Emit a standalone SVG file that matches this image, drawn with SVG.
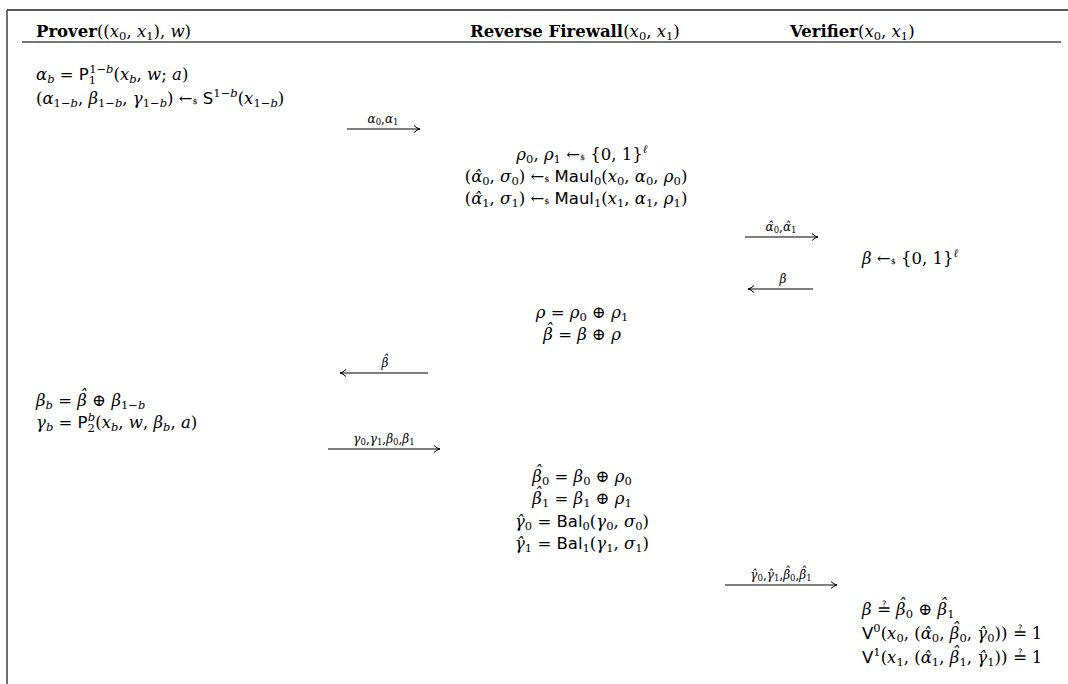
<svg xmlns="http://www.w3.org/2000/svg" width="1068" height="684" viewBox="0 0 1068 684">
<style>
.t{font-family:"DejaVu Serif",serif;font-size:16.5px;fill:#000}
.m{text-anchor:middle}
.i{font-style:italic}
.sf{font-family:"DejaVu Sans",sans-serif}
.s{font-size:11.5px}
.lb{font-family:"DejaVu Serif",serif;font-size:12px;fill:#000;text-anchor:middle}
.ls{font-size:8.5px}
.h{font-weight:bold}
.rnd{font-size:8px}
.ln{stroke:#000;stroke-width:1;fill:none}
</style>
<defs>
<marker id="ah" viewBox="0 0 8 8" refX="7" refY="4" markerWidth="8" markerHeight="8" markerUnits="userSpaceOnUse" orient="auto">
<path d="M1,0.5 Q4,3.5 7,4 Q4,4.5 1,7.5" fill="none" stroke="#000" stroke-width="1"/>
</marker>
</defs>
<rect width="1068" height="684" fill="#fff"/>
<g id="frame">
<line x1="7" y1="10" x2="1068" y2="10" stroke="#222" stroke-width="1.3"/>
<line x1="7" y1="10" x2="7" y2="684" stroke="#222" stroke-width="1.3"/>
<line x1="22" y1="42" x2="1061" y2="42" stroke="#777" stroke-width="2"/>
</g>
<g id="headers">
<text id="h-prover" class="t" x="36" y="37"><tspan class="h">Prover</tspan>((<tspan class="i">x</tspan><tspan class="s" dy="3">0</tspan><tspan dy="-3">, </tspan><tspan class="i">x</tspan><tspan class="s" dy="3">1</tspan><tspan dy="-3">), </tspan><tspan class="i">w</tspan>)</text>
<text id="h-firewall" class="t" x="470" y="37"><tspan class="h">Reverse Firewall</tspan>(<tspan class="i">x</tspan><tspan class="s" dy="3">0</tspan><tspan dy="-3">, </tspan><tspan class="i">x</tspan><tspan class="s" dy="3">1</tspan><tspan dy="-3">)</tspan></text>
<text id="h-verifier" class="t" x="790" y="37"><tspan class="h">Verifier</tspan>(<tspan class="i">x</tspan><tspan class="s" dy="3">0</tspan><tspan dy="-3">, </tspan><tspan class="i">x</tspan><tspan class="s" dy="3">1</tspan><tspan dy="-3">)</tspan></text>
</g>
<g id="prover-step1">
<text class="t" x="36" y="80"><tspan class="i">α</tspan><tspan class="s i" dy="3">b</tspan><tspan dy="-3"> = </tspan><tspan class="sf">P</tspan><tspan class="s" dy="4">1</tspan><tspan class="s" dx="-7" dy="-11">1−</tspan><tspan class="s i">b</tspan><tspan dy="7">(</tspan><tspan class="i">x</tspan><tspan class="s i" dy="3">b</tspan><tspan dy="-3">, </tspan><tspan class="i">w</tspan>; <tspan class="i">a</tspan>)</text>
<text class="t" x="36" y="104">(<tspan class="i">α</tspan><tspan class="s" dy="3">1−</tspan><tspan class="s i">b</tspan><tspan dy="-3">, </tspan><tspan class="i">β</tspan><tspan class="s" dy="3">1−</tspan><tspan class="s i">b</tspan><tspan dy="-3">, </tspan><tspan class="i">γ</tspan><tspan class="s" dy="3">1−</tspan><tspan class="s i">b</tspan><tspan dy="-3">) ←</tspan><tspan class="rnd">$</tspan> <tspan class="sf">S</tspan><tspan class="s" dy="-7">1−</tspan><tspan class="s i">b</tspan><tspan dy="7">(</tspan><tspan class="i">x</tspan><tspan class="s" dy="3">1−</tspan><tspan class="s i">b</tspan><tspan dy="-3">)</tspan></text>
</g>
<g id="firewall-step1">
<text class="t m" x="582" y="160"><tspan class="i">ρ</tspan><tspan class="s" dy="3">0</tspan><tspan dy="-3">, </tspan><tspan class="i">ρ</tspan><tspan class="s" dy="3">1</tspan><tspan dy="-3"> ←</tspan><tspan class="rnd">$</tspan> {0, 1}<tspan class="s i" dy="-7">ℓ</tspan></text>
<text class="t m" x="576" y="182">(<tspan class="i">α&#x302;</tspan><tspan class="s" dy="3">0</tspan><tspan dy="-3">, </tspan><tspan class="i">σ</tspan><tspan class="s" dy="3">0</tspan><tspan dy="-3">) ←</tspan><tspan class="rnd">$</tspan> <tspan class="sf">Maul</tspan><tspan class="s" dy="3">0</tspan><tspan dy="-3">(</tspan><tspan class="i">x</tspan><tspan class="s" dy="3">0</tspan><tspan dy="-3">, </tspan><tspan class="i">α</tspan><tspan class="s" dy="3">0</tspan><tspan dy="-3">, </tspan><tspan class="i">ρ</tspan><tspan class="s" dy="3">0</tspan><tspan dy="-3">)</tspan></text>
<text class="t m" x="576" y="204">(<tspan class="i">α&#x302;</tspan><tspan class="s" dy="3">1</tspan><tspan dy="-3">, </tspan><tspan class="i">σ</tspan><tspan class="s" dy="3">1</tspan><tspan dy="-3">) ←</tspan><tspan class="rnd">$</tspan> <tspan class="sf">Maul</tspan><tspan class="s" dy="3">1</tspan><tspan dy="-3">(</tspan><tspan class="i">x</tspan><tspan class="s" dy="3">1</tspan><tspan dy="-3">, </tspan><tspan class="i">α</tspan><tspan class="s" dy="3">1</tspan><tspan dy="-3">, </tspan><tspan class="i">ρ</tspan><tspan class="s" dy="3">1</tspan><tspan dy="-3">)</tspan></text>
</g>
<g id="verifier-step1">
<text class="t" x="862" y="264"><tspan class="i">β</tspan> ←<tspan class="rnd">$</tspan> {0, 1}<tspan class="s i" dy="-7">ℓ</tspan></text>
</g>
<g id="firewall-step2">
<text class="t m" x="582" y="318"><tspan class="i">ρ</tspan> = <tspan class="i">ρ</tspan><tspan class="s" dy="3">0</tspan><tspan dy="-3"> ⊕ </tspan><tspan class="i">ρ</tspan><tspan class="s" dy="3">1</tspan></text>
<text class="t m" x="582" y="340"><tspan class="i">β</tspan><tspan class="i" dx="-8" dy="-5">ˆ</tspan><tspan dy="5"> = </tspan><tspan class="i">β</tspan> ⊕ <tspan class="i">ρ</tspan></text>
</g>
<g id="prover-step2">
<text class="t" x="36" y="406"><tspan class="i">β</tspan><tspan class="s i" dy="3">b</tspan><tspan dy="-3"> = </tspan><tspan class="i">β</tspan><tspan class="i" dx="-8" dy="-5">ˆ</tspan><tspan dy="5"> ⊕ </tspan><tspan class="i">β</tspan><tspan class="s" dy="3">1−</tspan><tspan class="s i">b</tspan></text>
<text class="t" x="36" y="428"><tspan class="i">γ</tspan><tspan class="s i" dy="3">b</tspan><tspan dy="-3"> = </tspan><tspan class="sf">P</tspan><tspan class="s" dy="4">2</tspan><tspan class="s i" dx="-7" dy="-11">b</tspan><tspan dy="7">(</tspan><tspan class="i">x</tspan><tspan class="s i" dy="3">b</tspan><tspan dy="-3">, </tspan><tspan class="i">w</tspan>, <tspan class="i">β</tspan><tspan class="s i" dy="3">b</tspan><tspan dy="-3">, </tspan><tspan class="i">a</tspan>)</text>
</g>
<g id="firewall-step3">
<text class="t m" x="582" y="482"><tspan class="i">β</tspan><tspan class="i" dx="-8" dy="-5">ˆ</tspan><tspan class="s" dy="8">0</tspan><tspan dy="-3"> = </tspan><tspan class="i">β</tspan><tspan class="s" dy="3">0</tspan><tspan dy="-3"> ⊕ </tspan><tspan class="i">ρ</tspan><tspan class="s" dy="3">0</tspan></text>
<text class="t m" x="582" y="504"><tspan class="i">β</tspan><tspan class="i" dx="-8" dy="-5">ˆ</tspan><tspan class="s" dy="8">1</tspan><tspan dy="-3"> = </tspan><tspan class="i">β</tspan><tspan class="s" dy="3">1</tspan><tspan dy="-3"> ⊕ </tspan><tspan class="i">ρ</tspan><tspan class="s" dy="3">1</tspan></text>
<text class="t m" x="582" y="527"><tspan class="i">γ&#x302;</tspan><tspan class="s" dy="3">0</tspan><tspan dy="-3"> = </tspan><tspan class="sf">Bal</tspan><tspan class="s" dy="3">0</tspan><tspan dy="-3">(</tspan><tspan class="i">γ</tspan><tspan class="s" dy="3">0</tspan><tspan dy="-3">, </tspan><tspan class="i">σ</tspan><tspan class="s" dy="3">0</tspan><tspan dy="-3">)</tspan></text>
<text class="t m" x="582" y="549"><tspan class="i">γ&#x302;</tspan><tspan class="s" dy="3">1</tspan><tspan dy="-3"> = </tspan><tspan class="sf">Bal</tspan><tspan class="s" dy="3">1</tspan><tspan dy="-3">(</tspan><tspan class="i">γ</tspan><tspan class="s" dy="3">1</tspan><tspan dy="-3">, </tspan><tspan class="i">σ</tspan><tspan class="s" dy="3">1</tspan><tspan dy="-3">)</tspan></text>
</g>
<g id="verifier-step2">
<text class="t" x="862" y="615"><tspan class="i">β</tspan> ≟ <tspan class="i">β</tspan><tspan class="i" dx="-8" dy="-5">ˆ</tspan><tspan class="s" dy="8">0</tspan><tspan dy="-3"> ⊕ </tspan><tspan class="i">β</tspan><tspan class="i" dx="-8" dy="-5">ˆ</tspan><tspan class="s" dy="8">1</tspan></text>
<text class="t" x="862" y="639"><tspan class="sf">V</tspan><tspan class="s" dy="-7">0</tspan><tspan dy="7">(</tspan><tspan class="i">x</tspan><tspan class="s" dy="3">0</tspan><tspan dy="-3">, (</tspan><tspan class="i">α&#x302;</tspan><tspan class="s" dy="3">0</tspan><tspan dy="-3">, </tspan><tspan class="i">β</tspan><tspan class="i" dx="-8" dy="-5">ˆ</tspan><tspan class="s" dy="8">0</tspan><tspan dy="-3">, </tspan><tspan class="i">γ&#x302;</tspan><tspan class="s" dy="3">0</tspan><tspan dy="-3">)) ≟ 1</tspan></text>
<text class="t" x="862" y="663"><tspan class="sf">V</tspan><tspan class="s" dy="-7">1</tspan><tspan dy="7">(</tspan><tspan class="i">x</tspan><tspan class="s" dy="3">1</tspan><tspan dy="-3">, (</tspan><tspan class="i">α&#x302;</tspan><tspan class="s" dy="3">1</tspan><tspan dy="-3">, </tspan><tspan class="i">β</tspan><tspan class="i" dx="-8" dy="-5">ˆ</tspan><tspan class="s" dy="8">1</tspan><tspan dy="-3">, </tspan><tspan class="i">γ&#x302;</tspan><tspan class="s" dy="3">1</tspan><tspan dy="-3">)) ≟ 1</tspan></text>
</g>
<g id="connectors">
<line class="ln" x1="347" y1="129" x2="420" y2="129" marker-end="url(#ah)"/>
<text class="lb" x="383" y="123"><tspan class="i">α</tspan><tspan class="ls" dy="2">0</tspan><tspan dy="-2">,</tspan><tspan class="i">α</tspan><tspan class="ls" dy="2">1</tspan></text>
<line class="ln" x1="745" y1="237" x2="818" y2="237" marker-end="url(#ah)"/>
<text class="lb" x="781" y="231"><tspan class="i">α&#x302;</tspan><tspan class="ls" dy="2">0</tspan><tspan dy="-2">,</tspan><tspan class="i">α&#x302;</tspan><tspan class="ls" dy="2">1</tspan></text>
<line class="ln" x1="813" y1="289" x2="748" y2="289" marker-end="url(#ah)"/>
<text class="lb" x="783" y="283"><tspan class="i">β</tspan></text>
<line class="ln" x1="428" y1="373" x2="340" y2="373" marker-end="url(#ah)"/>
<text class="lb" x="385" y="367"><tspan class="i">β</tspan><tspan class="i" dx="-6" dy="-3.5">ˆ</tspan></text>
<line class="ln" x1="328" y1="449" x2="440" y2="449" marker-end="url(#ah)"/>
<text class="lb" x="384" y="443"><tspan class="i">γ</tspan><tspan class="ls" dy="2">0</tspan><tspan dy="-2">,</tspan><tspan class="i">γ</tspan><tspan class="ls" dy="2">1</tspan><tspan dy="-2">,</tspan><tspan class="i">β</tspan><tspan class="ls" dy="2">0</tspan><tspan dy="-2">,</tspan><tspan class="i">β</tspan><tspan class="ls" dy="2">1</tspan></text>
<line class="ln" x1="725" y1="585" x2="837" y2="585" marker-end="url(#ah)"/>
<text class="lb" x="781" y="579"><tspan class="i">γ&#x302;</tspan><tspan class="ls" dy="2">0</tspan><tspan dy="-2">,</tspan><tspan class="i">γ&#x302;</tspan><tspan class="ls" dy="2">1</tspan><tspan dy="-2">,</tspan><tspan class="i">β</tspan><tspan class="i" dx="-6" dy="-3.5">ˆ</tspan><tspan class="ls" dy="5.5">0</tspan><tspan dy="-2">,</tspan><tspan class="i">β</tspan><tspan class="i" dx="-6" dy="-3.5">ˆ</tspan><tspan class="ls" dy="5.5">1</tspan></text>
</g>
</svg>
